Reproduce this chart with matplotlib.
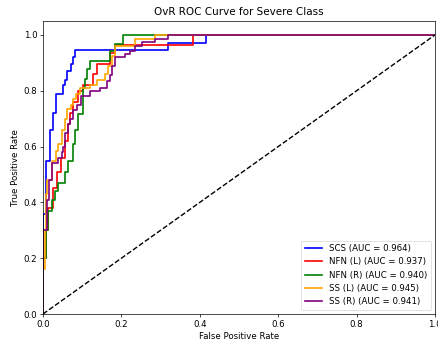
import matplotlib
matplotlib.use("Agg")
import matplotlib.pyplot as plt

title = "OvR ROC Curve for Severe Class"

labels = ["SCS (AUC = 0.964)", "NFN (L) (AUC = 0.937)", "NFN (R) (AUC = 0.940)",
          "SS (L) (AUC = 0.945)", "SS (R) (AUC = 0.941)"]
colors = ["blue", "red", "green", "orange", "purple"]

# ROC corner points (fpr, tpr) at top of each vertical jump
scs_fpr = [0, 0, 0.007, 0.018, 0.026, 0.033, 0.051, 0.056, 0.061, 0.071, 0.076, 0.082,
           0.319, 0.416, 1.0]
scs_tpr = [0, 0.36, 0.55, 0.66, 0.72, 0.79, 0.82, 0.84, 0.87, 0.895, 0.92, 0.946,
           0.971, 1.0, 1.0]

nfnl_fpr = [0, 0, 0.008, 0.013, 0.026, 0.036, 0.046, 0.056, 0.064, 0.069, 0.077, 0.089,
            0.102, 0.128, 0.138, 0.171, 0.184, 0.383, 1.0]
nfnl_tpr = [0, 0.2, 0.3, 0.38, 0.45, 0.51, 0.56, 0.62, 0.68, 0.72, 0.76, 0.8,
            0.82, 0.86, 0.896, 0.935, 0.964, 1.0, 1.0]

nfnr_fpr = [0, 0, 0.008, 0.013, 0.023, 0.031, 0.038, 0.056, 0.064, 0.077, 0.082, 0.089,
            0.102, 0.107, 0.112, 0.12, 0.171, 0.184, 0.204, 1.0]
nfnr_tpr = [0, 0.2, 0.3, 0.37, 0.41, 0.44, 0.47, 0.51, 0.55, 0.61, 0.66, 0.718,
            0.81, 0.843, 0.879, 0.907, 0.943, 0.968, 1.0, 1.0]

ssl_fpr = [0, 0, 0.005, 0.008, 0.01, 0.023, 0.033, 0.038, 0.048, 0.056, 0.061, 0.071,
           0.077, 0.085, 0.095, 0.12, 0.138, 0.158, 0.166, 0.176, 0.184, 0.235, 0.286, 1.0]
ssl_tpr = [0, 0.16, 0.3, 0.43, 0.48, 0.55, 0.585, 0.61, 0.66, 0.7, 0.735, 0.75,
           0.77, 0.79, 0.81, 0.82, 0.84, 0.86, 0.89, 0.925, 0.96, 0.986, 1.0, 1.0]

ssr_fpr = [0, 0, 0.01, 0.015, 0.023, 0.038, 0.048, 0.051, 0.056, 0.064, 0.069, 0.077,
           0.087, 0.097, 0.12, 0.145, 0.163, 0.171, 0.176, 0.184, 0.209, 0.222, 0.235,
           0.253, 0.286, 0.319, 1.0]
ssr_tpr = [0, 0.3, 0.41, 0.48, 0.54, 0.56, 0.58, 0.6, 0.65, 0.68, 0.7, 0.73,
           0.75, 0.78, 0.8, 0.81, 0.835, 0.855, 0.89, 0.92, 0.93, 0.943, 0.96,
           0.975, 0.986, 1.0, 1.0]

curves = [(scs_fpr, scs_tpr), (nfnl_fpr, nfnl_tpr), (nfnr_fpr, nfnr_tpr),
          (ssl_fpr, ssl_tpr), (ssr_fpr, ssr_tpr)]

plt.rcParams['font.family'] = ['DejaVu Sans']
fig = plt.figure(figsize=(4.39, 3.39), dpi=100)
ax = fig.add_axes([43/439, 1 - 314/339, (435-43)/439, (314-21)/339])

for (f, t), lab, c in zip(curves, labels, colors):
    ax.plot(f, t, color=c, lw=1.2, label=lab, drawstyle='steps-post')

ax.plot([0, 1], [0, 1], 'k--', lw=1.0)
ax.set_xlim(0.0, 1.0)
ax.set_ylim(0.0, 1.05)
ax.set_title(title, fontsize=7.5, pad=4)
ax.set_xlabel("False Positive Rate", fontsize=6.2, labelpad=2.5)
ax.set_ylabel("True Positive Rate", fontsize=6.2, labelpad=2.5)
ax.tick_params(labelsize=6.2, length=2.2, width=0.5, pad=2)
for s in ax.spines.values():
    s.set_linewidth(0.5)
leg = ax.legend(loc="lower right", fontsize=6.2, handlelength=2, borderpad=0.4,
                labelspacing=0.5, framealpha=0.8)
leg.get_frame().set_linewidth(0.5)

fig.savefig("out.png", dpi=100)
